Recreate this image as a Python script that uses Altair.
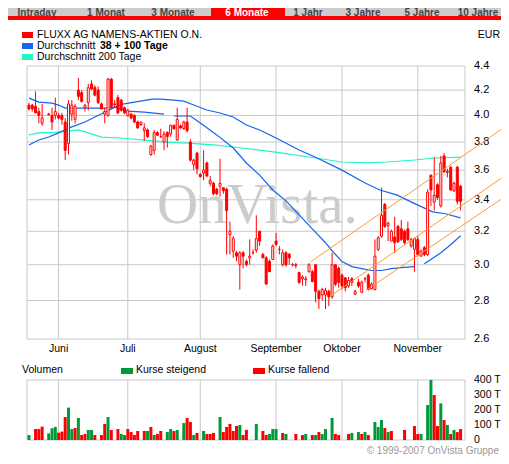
import altair as alt
import pandas as pd

# ---------------- data ----------------
# trading-day index 0..131 (about 18 May 2007 .. 20 Nov 2007)
opens = [4.08, 4.08, 4.07, 4.03, 3.94, None, 4.01, 4.00, 4.00, 4.00,
         4.00, 3.95, 3.79, 4.01, 3.97, 4.20, 4.18, 4.06, 4.10, 4.25,
         4.22, 4.20, 4.09, 4.01, 4.00, 4.29, 4.09, 4.14, 4.12, 4.06,
         4.00, 4.01, 4.00, 3.95, 3.93, 3.885, 3.89, 3.71, 3.74, 3.87,
         3.84, 3.80, 3.87, 3.86, 3.925, 3.815, 3.92, 3.90, 3.95, 3.80,
         3.64, 3.72, 3.57, 3.58, 3.65, 3.51, 3.51, 3.47, 3.49, 3.48,
         3.47, 3.18, 3.08, 3.07, 3.00, 3.07, 3.02, 3.04, 3.07, 3.085,
         3.20, 3.06, 3.04, 3.02, 3.03, 3.14, 3.09, 3.00, 3.07, 3.06,
         3.00, 3.00, 2.955, 2.92, 2.915, 2.96, 2.96, 3.00, 2.85, 2.83,
         2.83, 2.85, 2.82, 3.00, 2.98, 2.94, 2.925, 2.88, 2.92, 2.835,
         2.90, 2.845, 2.92, 2.94, 2.865, 2.86, 3.09, 3.17, 3.37, 3.235,
         3.14, 3.165, 3.23, 3.215, 3.20, 3.215, 3.11, 3.09, 3.15, 3.05,
         3.10, 3.06, 3.565, 3.385, 3.50, 3.36, 3.70, 3.59, 3.62, 3.46,
         3.62, 3.49]
highs = [4.10, 4.09, 4.19, 4.06, 4.09, None, 4.02, 4.06, 4.14, 4.02,
         4.02, 3.98, 4.12, 4.12, 4.09, 4.30, 4.20, 4.09, 4.25, 4.28,
         4.24, 4.23, 4.10, 4.06, 4.30, 4.30, 4.12, 4.16, 4.13, 4.07,
         4.05, 4.02, 4.01, 3.96, 3.95, 3.94, 3.90, 3.78, 3.89, 3.88,
         3.90, 3.88, 3.88, 3.93, 3.93, 4.06, 3.93, 3.96, 4.06, 3.82,
         3.68, 3.73, 3.58, 3.74, 3.66, 3.56, 3.52, 3.48, 3.68, 3.48,
         3.48, 3.26, 3.17, 3.08, 3.08, 3.08, 3.03, 3.15, 3.09, 3.30,
         3.20, 3.07, 3.05, 3.03, 3.12, 3.19, 3.11, 3.09, 3.08, 3.07,
         3.01, 3.01, 2.96, 2.94, 2.935, 3.01, 2.97, 3.00, 2.86, 2.87,
         2.87, 2.86, 3.07, 3.00, 2.99, 2.95, 2.93, 2.93, 2.93, 2.86,
         2.92, 2.91, 2.93, 2.95, 2.90, 3.15, 3.17, 3.48, 3.38, 3.26,
         3.21, 3.29, 3.24, 3.27, 3.21, 3.26, 3.16, 3.16, 3.17, 3.09,
         3.11, 3.47, 3.57, 3.69, 3.51, 3.70, 3.72, 3.61, 3.63, 3.52,
         3.63, 3.50]
lows = [4.04, 4.03, 4.02, 3.94, 3.92, None, 4.00, 3.89, 3.97, 3.97,
        3.93, 3.67, 3.71, 3.96, 3.94, 4.12, 4.10, 4.03, 4.04, 4.20,
        4.15, 4.09, 4.05, 3.94, 3.99, 4.05, 4.06, 4.01, 4.03, 4.01,
        3.99, 3.97, 3.94, 3.90, 3.92, 3.81, 3.83, 3.70, 3.71, 3.85,
        3.83, 3.74, 3.76, 3.84, 3.89, 3.81, 3.90, 3.89, 3.87, 3.66,
        3.60, 3.57, 3.55, 3.53, 3.55, 3.49, 3.43, 3.43, 3.42, 3.44,
        3.06, 3.06, 3.04, 3.02, 2.86, 2.98, 2.99, 3.00, 3.06, 3.07,
        3.11, 3.04, 2.89, 2.96, 3.03, 3.11, 3.06, 2.99, 2.99, 3.00,
        2.99, 2.98, 2.89, 2.88, 2.88, 2.955, 2.90, 2.79, 2.755, 2.80,
        2.755, 2.77, 2.81, 2.88, 2.87, 2.86, 2.85, 2.87, 2.88, 2.83,
        2.87, 2.84, 2.90, 2.855, 2.86, 2.855, 3.08, 3.16, 3.22, 3.14,
        3.14, 3.07, 3.13, 3.14, 3.12, 3.14, 3.10, 2.96, 3.05, 3.05,
        3.05, 3.05, 3.36, 3.33, 3.40, 3.35, 3.58, 3.55, 3.46, 3.45,
        3.37, 3.33]
closes = [4.05, 4.05, 4.02, 4.00, 3.98, None, 4.005, 3.95, 4.03, 3.98,
          3.97, 3.74, 4.09, 4.08, 4.07, 4.15, 4.11, 4.08, 4.22, 4.21,
          4.16, 4.10, 4.05, 4.03, 4.29, 4.07, 4.085, 4.02, 4.04, 4.02,
          4.04, 3.98, 3.95, 3.905, 3.95, 3.905, 3.84, 3.77, 3.87, 3.85,
          3.84, 3.86, 3.84, 3.925, 3.90, 3.97, 3.905, 3.95, 3.885, 3.67,
          3.67, 3.61, 3.555, 3.60, 3.56, 3.53, 3.44, 3.44, 3.51, 3.46,
          3.33, 3.20, 3.155, 3.05, 3.07, 3.05, 3.00, 3.05, 3.07, 3.155,
          3.14, 3.04, 2.89, 2.96, 3.11, 3.12, 3.09, 3.07, 3.00, 3.04,
          3.00, 2.995, 2.90, 2.93, 2.92, 3.00, 2.905, 2.85, 2.81, 2.86,
          2.855, 2.82, 3.00, 2.89, 2.90, 2.88, 2.87, 2.91, 2.90, 2.85,
          2.88, 2.90, 2.92, 2.86, 2.89, 3.05, 3.16, 3.30, 3.23, 3.25,
          3.20, 3.13, 3.135, 3.15, 3.13, 3.15, 3.15, 3.155, 3.06, 3.08,
          3.06, 3.45, 3.465, 3.43, 3.415, 3.65, 3.59, 3.585, 3.465, 3.51,
          3.39, 3.39]
# volume in thousand shares; "u" = Kurse steigend, "d" = Kurse fallend, "-" = none
volumes = [33, 0, 73, 73, 89, 0, 44, 78, 87, 49,
           56, 153, 216, 73, 80, 147, 33, 40, 67, 67,
           33, 0, 33, 107, 153, 67, 0, 73, 40, 33,
           73, 53, 33, 60, 0, 60, 60, 87, 33, 40,
           60, 0, 53, 73, 60, 67, 0, 113, 147, 120,
           33, 47, 0, 60, 40, 40, 47, 0, 153, 53,
           87, 107, 60, 93, 100, 33, 67, 0, 0, 107,
           0, 60, 33, 40, 73, 73, 0, 47, 40, 0,
           0, 40, 0, 33, 40, 0, 33, 33, 53, 40,
           73, 0, 147, 40, 33, 0, 0, 40, 47, 0,
           53, 40, 53, 33, 0, 120, 87, 133, 80, 53,
           60, 0, 0, 0, 67, 0, 0, 93, 40, 40,
           0, 233, 400, 300, 93, 244, 133, 100, 40, 67,
           53, 73]
vol_dir = list("u-ddd-uuud"
               "dduududduu"
               "d-ddud-duu"
               "dddd-dudud"
               "d-uudu-udd"
               "ud-uddd-ud"
               "ddddudd--u"
               "-dduuu-du-"
               "-d-du-dudu"
               "u-udd--du-"
               "udud-uuudu"
               "d---d--ddu"
               "-uuddududu"
               "dd")

ma38_day = [0, 3, 7, 9, 11, 15, 19, 23, 26, 30, 35, 41,
            44, 49, 52, 57, 62, 66, 70, 74, 78, 82, 86, 90, 92, 95, 98,
            101, 104, 107, 110, 113, 117,
            120, 122, 125, 128, 131]
ma38_val = [4.136, 4.104, 4.096, 4.081, 4.057, 4.057, 4.057, 4.057, 4.065,
            4.034, 4.026, 4.011,
            3.996, 3.996, 3.942, 3.853, 3.757, 3.65, 3.566, 3.465, 3.393,
            3.303, 3.215, 3.13, 3.082, 3.018, 2.989, 2.978, 2.967, 2.967,
            2.978, 2.983, 2.989,
            3.006, 3.03, 3.07, 3.118, 3.172]
ma38_seg = [1] * 12 + [2] * 21 + [3] * 5

ma100_day = [0, 3, 6, 9, 13, 17, 20, 22.5, 25.5, 28.5, 32, 37.4, 40, 44,
             47, 50, 54, 58, 62, 66, 70, 75, 82, 87, 95, 102, 106.5,
             111.6, 116.6, 122.5, 126.4, 131]
ma100_val = [3.779, 3.815, 3.837, 3.868, 3.913, 3.95, 3.988, 4.019, 4.057,
             4.089, 4.104, 4.128, 4.128, 4.12, 4.112, 4.081, 4.042, 4.019,
             3.988, 3.927, 3.89, 3.83, 3.742, 3.69, 3.60, 3.512, 3.465,
             3.432, 3.38, 3.322, 3.31, 3.284]

ma200_day = [0, 3, 8, 15, 18, 22, 28, 35, 42, 48, 56, 62, 70, 77, 87,
             95, 103, 109, 117, 123, 131]
ma200_val = [3.853, 3.868, 3.872, 3.89, 3.868, 3.837, 3.83, 3.815, 3.80,
             3.793, 3.779, 3.764, 3.742, 3.72, 3.685, 3.657, 3.65, 3.657,
             3.671, 3.685, 3.692]

# upward trend channel (start / end points)
trend_day0 = [85.5, 91.4, 102.4]
trend_val0 = [3.017, 2.823, 2.857]
trend_day1 = [143.9, 143.9, 143.9]
trend_val1 = [3.904, 3.553, 3.412]

price_ticks = [2.6, 2.8, 3.0, 3.2, 3.4, 3.6, 3.8, 4.0, 4.2, 4.4]
vol_ticks = [0, 100, 200, 300, 400]
vol_tick_labels = ["0", "100 T", "200 T", "300 T", "400 T"]
month_names = ["Juni", "Juli", "August", "September", "Oktober", "November"]
month_start_day = [9, 30, 52, 75, 95, 118]
day_first, day_last = -0.593, 132.34

tab_labels = ["Intraday", "1 Monat", "3 Monate", "6 Monate",
              "1 Jahr", "3 Jahre", "5 Jahre", "10 Jahre"]

# ---------------- layout ----------------
W, H = 493, 448
O = 8  # the page margin: reference pixel -> chart pixel
FONT = "Liberation Sans"
RED = "#FF0000"
GREEN = "#00993A"
BLUE = "#1464F0"
CYAN = "#22F5C8"
ORANGE = "#FF9933"
GRID = "#C8C8C8"

XS = alt.Scale(domain=[day_first, day_last], range=[22 - O, 470 - O],
               nice=False, zero=False)
PY = alt.Scale(type="log", domain=[2.6, 4.4], range=[339 - O, 66 - O], nice=False)
VY = alt.Scale(domain=[0, 400], range=[440 - O, 380 - O], nice=False, zero=False)

one = pd.DataFrame({"a": [0]})


def box(x1, y1, x2, y2, color):
    return alt.Chart(one).mark_rect(color=color).encode(
        x=alt.value(x1 - O), x2=alt.value(x2 - O),
        y=alt.value(y1 - O), y2=alt.value(y2 - O))


def label(txt, x, y, size=10.5, color="black", align="left", weight="normal",
          font=FONT, baseline="middle"):
    return alt.Chart(one).mark_text(
        text=txt, fontSize=size, color=color, align=align, baseline=baseline,
        fontWeight=weight, font=font).encode(x=alt.value(x - O), y=alt.value(y - O))


n = len(closes)
cdf = pd.DataFrame({"day": list(range(n)), "open": opens, "high": highs,
                    "low": lows, "close": closes}).dropna()
vdf = pd.DataFrame({"day": list(range(len(volumes))), "vol": volumes,
                    "dir": vol_dir[:len(volumes)]})
vdf = vdf[vdf.vol > 0]

# ---------------- tab bar ----------------
tab_center = [37, 106, 173, 247, 308, 363, 422, 478]
layers = [box(0, 0, 509, 16, "#CCCCCC"),
          box(211, 0, 285, 16, RED),
          box(0, 16, 509, 20, RED)]
for t, cx in zip(tab_labels, tab_center):
    layers.append(label(t, cx, 15.5, size=10, align="center", weight="bold",
                        color="white" if t == "6 Monate" else "#444444",
                        baseline="alphabetic"))

# ---------------- legend ----------------
layers += [
    box(22, 32, 33, 38, RED), label("FLUXX AG NAMENS-AKTIEN O.N.", 37, 35),
    box(22, 43, 33, 49, BLUE), label("Durchschnitt", 37, 46),
    label("38 + 100 Tage", 100, 46, weight="bold"),
    box(22, 54, 33, 60, CYAN), label("Durchschnitt 200 Tage", 37, 57),
    label("EUR", 500, 35, align="right"),
]

# ---------------- price panel ----------------
hg = pd.DataFrame({"p": price_ticks, "x0": day_first, "x1": day_last})
vg = pd.DataFrame({"d": [day_first] + month_start_day + [day_last],
                   "lo": 2.6, "hi": 4.4})
layers += [
    alt.Chart(hg).mark_rule(color=GRID, strokeWidth=1).encode(
        x=alt.X("x0:Q", scale=XS, axis=None), x2="x1:Q",
        y=alt.Y("p:Q", scale=PY, axis=None)),
    alt.Chart(vg).mark_rule(color=GRID, strokeWidth=1).encode(
        x=alt.X("d:Q", scale=XS, axis=None),
        y=alt.Y("lo:Q", scale=PY, axis=None), y2="hi:Q"),
    label("OnVista.", 157, 223, size=57, color="#CCCCCC",
          font="Liberation Serif", baseline="alphabetic"),
]

lab = pd.DataFrame({"p": price_ticks, "t": [f"{v:.1f}" for v in price_ticks]})
layers.append(alt.Chart(lab).mark_text(align="left", baseline="middle", fontSize=11,
                                       font=FONT, color="black").encode(
    x=alt.value(474 - O), y=alt.Y("p:Q", scale=PY, axis=None), text="t:N"))

mlab = pd.DataFrame({"d": month_start_day, "t": month_names})
layers.append(alt.Chart(mlab).mark_text(align="center", baseline="middle", fontSize=10.5,
                                        font=FONT, color="black").encode(
    x=alt.X("d:Q", scale=XS, axis=None), y=alt.value(349 - O), text="t:N"))

for days, vals, seg, color in [
        (ma200_day, ma200_val, None, CYAN),
        (ma100_day, ma100_val, None, BLUE),
        (ma38_day, ma38_val, ma38_seg, BLUE)]:
    df = pd.DataFrame({"d": days, "v": vals,
                       "s": seg if seg is not None else [1] * len(days)})
    layers.append(alt.Chart(df).mark_line(color=color, strokeWidth=1.2).encode(
        x=alt.X("d:Q", scale=XS, axis=None),
        y=alt.Y("v:Q", scale=PY, axis=None), detail="s:N"))

layers += [
    alt.Chart(cdf).mark_rule(color=RED, strokeWidth=1).encode(
        x=alt.X("day:Q", scale=XS, axis=None),
        y=alt.Y("low:Q", scale=PY, axis=None), y2="high:Q"),
    alt.Chart(cdf).mark_bar(size=2, stroke=RED, strokeWidth=1).encode(
        x=alt.X("day:Q", scale=XS, axis=None),
        y=alt.Y("open:Q", scale=PY, axis=None), y2="close:Q",
        fill=alt.condition("datum.close > datum.open", alt.value("white"),
                           alt.value(RED))),
]

tdf = pd.DataFrame({"d0": trend_day0, "v0": trend_val0,
                    "d1": trend_day1, "v1": trend_val1})
layers.append(alt.Chart(tdf).mark_rule(color=ORANGE, strokeWidth=1, clip=False).encode(
    x=alt.X("d0:Q", scale=XS, axis=None), x2="d1:Q",
    y=alt.Y("v0:Q", scale=PY, axis=None), y2="v1:Q"))

# ---------------- volume panel ----------------
layers += [
    label("Volumen", 22, 370),
    box(121, 368, 133, 374, GREEN), label("Kurse steigend", 136, 370),
    box(253, 368, 265, 374, RED), label("Kurse fallend", 268, 370),
]
vhg = pd.DataFrame({"v": [0, 400], "x0": day_first, "x1": day_last})
vvg = pd.DataFrame({"d": [day_first] + month_start_day + [day_last],
                    "lo": 0, "hi": 400})
layers += [
    alt.Chart(vhg).mark_rule(color=GRID, strokeWidth=1).encode(
        x=alt.X("x0:Q", scale=XS, axis=None), x2="x1:Q",
        y=alt.Y("v:Q", scale=VY, axis=None)),
    alt.Chart(vvg).mark_rule(color=GRID, strokeWidth=1).encode(
        x=alt.X("d:Q", scale=XS, axis=None),
        y=alt.Y("lo:Q", scale=VY, axis=None), y2="hi:Q"),
    alt.Chart(vdf).mark_bar(size=3).encode(
        x=alt.X("day:Q", scale=XS, axis=None),
        y=alt.Y("vol:Q", scale=VY, axis=None),
        color=alt.condition("datum.dir == 'u'", alt.value(GREEN), alt.value(RED))),
]
vlab = pd.DataFrame({"v": vol_ticks, "t": vol_tick_labels})
layers.append(alt.Chart(vlab).mark_text(align="left", baseline="middle", fontSize=10.5,
                                        font=FONT, color="black").encode(
    x=alt.value(474 - O), y=alt.Y("v:Q", scale=VY, axis=None), text="t:N"))

layers.append(label("\u00a9 1999-2007 OnVista Gruppe", 499, 450.5, size=10,
                    color="#999999", align="right"))

chart = alt.layer(*layers).resolve_scale(y="independent").properties(
    width=W, height=H, autosize=alt.AutoSizeParams(type="none"), padding=0
).configure_view(strokeWidth=0)

chart.save("out.html", embed_options={"renderer": "svg", "actions": False})
